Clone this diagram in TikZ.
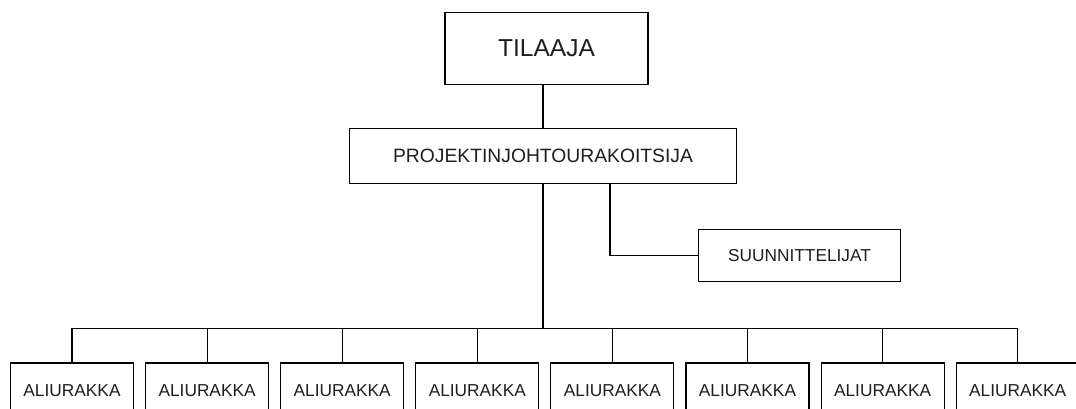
\documentclass[tikz,border=0pt]{standalone}
\usepackage{fontspec}
\setmainfont{Liberation Sans}
\definecolor{txt}{HTML}{1E1E1E}
\begin{document}
\begin{tikzpicture}[x=1pt,y=-1pt,
  box/.style={draw=black,line width=1.1pt,inner sep=0pt,text=txt,fill=white},
  link/.style={draw=black,line width=1.1pt},
  bigbox/.style={box,minimum width=203pt,minimum height=72pt,font=\fontsize{24.5}{28}\selectfont},
  projbox/.style={box,minimum width=387.5pt,minimum height=55pt,font=\fontsize{19.3}{22}\selectfont},
  sidebox/.style={box,minimum width=202.5pt,minimum height=52pt,font=\fontsize{17.3}{20}\selectfont},
  subbox/.style={box,minimum width=123pt,minimum height=56pt,font=\fontsize{17.3}{20}\selectfont}]
\useasboundingbox (0,0) rectangle (1076,408);
\clip (0,0) rectangle (1076,408);
\node[bigbox] (t) at (546.5,48.3) {TILAAJA};
\node[projbox] (p) at (543,155.8) {PROJEKTINJOHTOURAKOITSIJA};
\node[sidebox] (s) at (799.5,255.3) {SUUNNITTELIJAT};
\coordinate (bus) at (543,328.3);
\foreach \i in {1,...,8}{
  \node[subbox] (a\i) at ({72+135.1*(\i-1)},391) {ALIURAKKA};
}
\draw[link] (p.north |- t.south) -- (p.north);
\draw[link] (p.south) -- (bus);
\draw[link] ([xshift=67pt]p.south) |- (s.west);
\draw[link] (a1.north |- bus) -- (a8.north |- bus);
\foreach \i in {1,...,8}{
  \draw[link] (a\i.north) -- (a\i.north |- bus);
}
\end{tikzpicture}
\end{document}
